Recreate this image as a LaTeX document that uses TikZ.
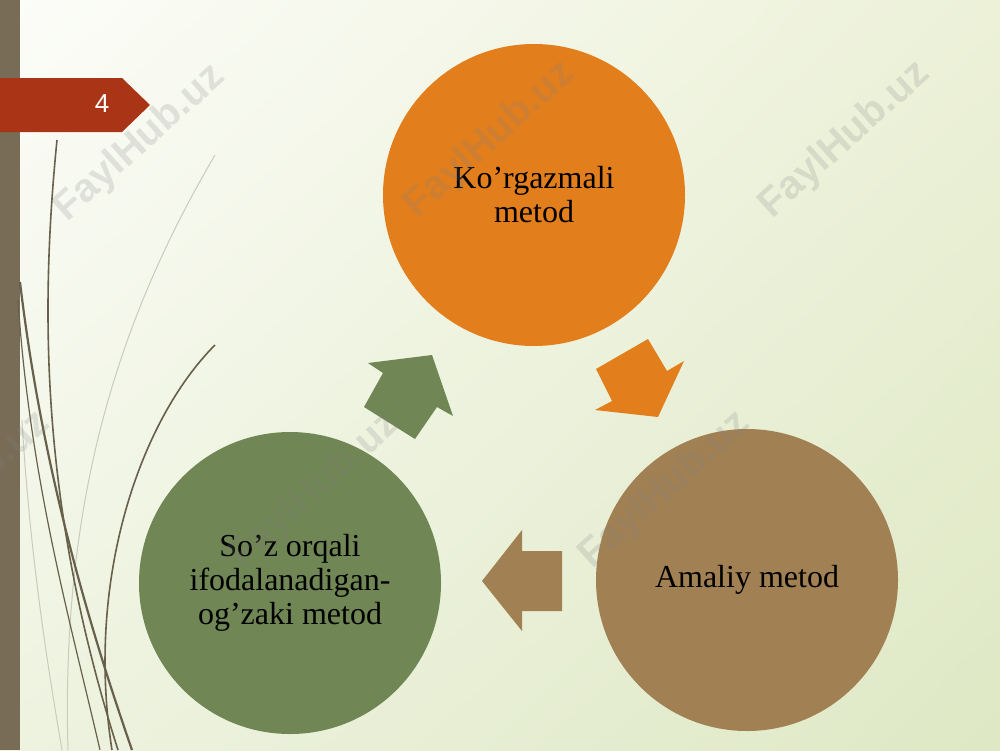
\documentclass[tikz,border=0pt]{standalone}
\usepackage{fontspec}
\setmainfont{Liberation Serif}
\newfontfamily\slidesans{Liberation Sans}
\usepackage{xcolor}
\definecolor{mtorange}{RGB}{226,126,28}
\definecolor{mtbrown}{RGB}{161,129,83}
\definecolor{mtgreen}{RGB}{112,134,84}
\definecolor{mtred}{RGB}{170,52,22}
\definecolor{mtbar}{RGB}{120,108,86}
\definecolor{mtgrass}{RGB}{104,96,74}
\definecolor{mtpale}{RGB}{200,204,190}
\definecolor{bgtl}{RGB}{252,253,249}
\definecolor{bgtr}{RGB}{236,241,216}
\definecolor{bgbl}{RGB}{238,243,224}
\definecolor{bgbr}{RGB}{222,232,196}
\usepackage{tikz}
\usetikzlibrary{positioning, shadings}

\begin{document}
\begin{tikzpicture}[x=1pt, y=-1pt,
    method/.style={circle, minimum size=302pt, inner sep=0pt, align=center,
      font=\fontsize{32}{34}\selectfont},
    watermark/.style={font=\slidesans\bfseries\fontsize{40}{40}\selectfont,
      text=gray, opacity=0.2, rotate=42}]
  \useasboundingbox (0,0) rectangle (1000,750);
  % Slide background
  \shade[upper left=bgtl, upper right=bgtr, lower left=bgbl, lower right=bgbr]
    (0,0) rectangle (1000,750);
  % Left bar
  \fill[mtbar] (0,0) rectangle (20,750);
  % Grass strokes
  \draw[mtpale, line width=1pt] (215,155) .. controls (130,300) and (60,480) .. (68,750);
  \draw[mtpale, line width=1pt] (22,420) .. controls (30,560) and (50,680) .. (62,750);
  \draw[mtgrass, line width=1.6pt] (57,140) .. controls (38,330) and (45,520) .. (118,750);
  \draw[mtgrass, line width=2.2pt] (20,282) .. controls (40,450) and (80,600) .. (132,750);
  \draw[mtgrass, line width=1.2pt] (18,300) .. controls (30,480) and (70,620) .. (100,750);
  \draw[mtgrass, line width=1.6pt] (215,345) .. controls (140,420) and (85,580) .. (112,750);
  % Slide number tab
  \fill[mtred] (0,78) -- (122,78) -- (150,105) -- (122,132) -- (0,132) -- cycle;
  \node[font=\slidesans\fontsize{26}{26}\selectfont, text=white] (num) at (102,104) {4};
  % Methods
  \node[method, fill=mtorange] (visual) at (534,195) {Ko’rgazmali\\metod};
  \node[method, fill=mtbrown] (practical) at (747,580) {Amaliy metod};
  \node[method, fill=mtgreen] (verbal) at (290,583) {So’z orqali\\ifodalanadigan-\\og’zaki metod};
  % Cycle arrows
  \fill[mtorange] (596,369) -- (648,339) -- (667,371) -- (684,361) -- (658,417) --
    (595,410) -- (612,401) -- cycle;
  \fill[mtbrown] (562,551) -- (562,611) -- (522,611) -- (522,631) -- (482,581) --
    (522,530) -- (522,551) -- cycle;
  \fill[mtgreen] (364,407) -- (415,439) -- (437,407) -- (453,416) -- (432,355) --
    (368,363) -- (383,373) -- cycle;
  % Watermarks
  \node[watermark] (wm1) at (140,143) {FaylHub.uz};
  \node[watermark] (wm2) at (490,140) {FaylHub.uz};
  \node[watermark] (wm3) at (845,140) {FaylHub.uz};
  \node[watermark] (wm4) at (-35,490) {FaylHub.uz};
  \node[watermark] (wm5) at (315,490) {FaylHub.uz};
  \node[watermark] (wm6) at (665,490) {FaylHub.uz};
\end{tikzpicture}
\end{document}
